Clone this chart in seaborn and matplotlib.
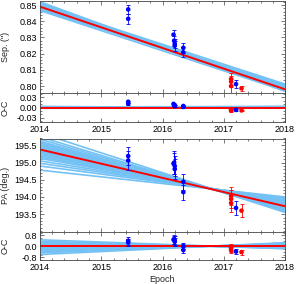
import numpy as np
import pandas as pd
import matplotlib
matplotlib.use("Agg")
import matplotlib.pyplot as plt
from matplotlib.ticker import MultipleLocator, FormatStrFormatter, FixedLocator
import seaborn as sns

# ---------------- data ----------------
model_epochs = [2014.0, 2018.0]
sep_model = [0.8490, 0.7980]
pa_model = [195.38, 193.73]

# orbit-sample lines (values at 2014 and 2018)
sep_fan_2014 = [0.8520, 0.8514, 0.8508, 0.8503, 0.8498, 0.8494, 0.8490, 0.8486, 0.8481, 0.8476, 0.8470, 0.8466]
sep_fan_2018 = [0.7968, 0.7975, 0.7990, 0.8012, 0.7998, 0.7984, 0.7980, 0.8005, 0.7976, 0.7993, 0.8000, 0.7970]
pa_fan_2014 = [195.86, 195.75, 195.68, 195.62, 195.58, 195.55, 195.52, 195.50, 195.47, 195.45, 195.42, 195.40,
               195.38, 195.35, 195.33, 195.30, 195.27, 195.24, 195.20, 195.16, 195.12, 195.05, 194.98, 194.90, 194.78]
pa_fan_2018 = [193.55, 193.58, 193.62, 193.63, 193.66, 193.67, 193.68, 193.70, 193.71, 193.72, 193.73, 193.74,
               193.75, 193.76, 193.77, 193.79, 193.80, 193.81, 193.83, 193.85, 193.87, 193.90, 193.93, 193.96, 194.00]

# measurements
blue_epoch = [2015.44, 2015.44, 2016.18, 2016.19, 2016.20, 2016.20, 2016.34, 2016.34, 2017.20]
blue_sep = [0.8473, 0.8415, 0.8317, 0.8280, 0.8262, 0.8249, 0.8236, 0.8208, 0.8012]
blue_sep_err = [0.0030, 0.0030, 0.0030, 0.0030, 0.0030, 0.0030, 0.0030, 0.0030, 0.0024]
blue_pa = [195.19, 195.06, 194.97, 195.00, 194.90, 194.81, 194.44, 194.14, 193.68]
blue_pa_err = [0.27, 0.27, 0.30, 0.33, 0.30, 0.30, 0.24, 0.22, 0.20]

red_epoch = [2017.12, 2017.12, 2017.12, 2017.29]
red_sep = [0.8043, 0.8027, 0.8000, 0.7986]
red_sep_err = [0.0035, 0.0035, 0.0045, 0.0015]
red_pa = [194.03, 193.94, 193.82, 193.60]
red_pa_err = [0.27, 0.25, 0.25, 0.18]

x_ticks = [2014, 2015, 2016, 2017, 2018]
pa_ticks = [193.5, 194.0, 194.5, 195.0, 195.5]

# ---------------- style ----------------
sns.set_theme(style="ticks")
plt.rcParams["font.family"] = ["Liberation Sans", "DejaVu Sans"]
plt.rcParams["font.size"] = 6.5
plt.rcParams["axes.labelsize"] = 6.5
plt.rcParams["axes.linewidth"] = 0.6
plt.rcParams["axes.labelpad"] = 1
for ax_ in ("xtick", "ytick"):
    plt.rcParams[f"{ax_}.direction"] = "in"
    plt.rcParams[f"{ax_}.major.size"] = 3
    plt.rcParams[f"{ax_}.minor.size"] = 1.5
    plt.rcParams[f"{ax_}.major.width"] = 0.5
    plt.rcParams[f"{ax_}.minor.width"] = 0.5
    plt.rcParams[f"{ax_}.major.pad"] = 2
    plt.rcParams[f"{ax_}.labelsize"] = 6.5
    plt.rcParams[f"{ax_}.color"] = "#444444"
    plt.rcParams[f"{ax_}.labelcolor"] = "black"

BAND = "#74c2f5"
RED = "#ff0000"
BLUE = "#0000ff"

W, H = 299, 284
fig = plt.figure(figsize=(W / 100, H / 100), dpi=100)

def add_ax(top, bottom):
    return fig.add_axes([40 / W, (H - bottom) / H, 245 / W, (bottom - top) / H])

ax_sep = add_ax(1, 93)
ax_soc = add_ax(93, 122)
ax_pa = add_ax(138.5, 232)
ax_poc = add_ax(232, 260)

def interp_model(ep, model):
    return np.interp(ep, model_epochs, model)

def fan_frame(start, end, model):
    rows = []
    for i, (a, b) in enumerate(zip(start, end)):
        rows.append((i, model_epochs[0], a, a - model[0]))
        rows.append((i, model_epochs[1], b, b - model[1]))
    return pd.DataFrame(rows, columns=["line", "epoch", "val", "oc"])

def panel(ax, ax_oc, fan_s, fan_e, model, b_val, b_err, r_val, r_err):
    fan = fan_frame(fan_s, fan_e, model)
    mdf = pd.DataFrame({"epoch": model_epochs, "val": model, "oc": [0.0, 0.0]})
    bdf = pd.DataFrame({"epoch": blue_epoch, "val": b_val, "err": b_err})
    bdf["oc"] = bdf["val"] - interp_model(bdf["epoch"], model)
    rdf = pd.DataFrame({"epoch": red_epoch, "val": r_val, "err": r_err})
    rdf["oc"] = rdf["val"] - interp_model(rdf["epoch"], model)
    for a, col in ((ax, "val"), (ax_oc, "oc")):
        sns.lineplot(data=fan, x="epoch", y=col, units="line", estimator=None,
                     color=BAND, lw=1.2, ax=a, legend=False)
        sns.lineplot(data=mdf, x="epoch", y=col, color=RED, lw=1.4, ax=a, legend=False)
        for df, c in ((bdf, BLUE), (rdf, RED)):
            a.errorbar(df["epoch"], df[col], yerr=df["err"], fmt="none", ecolor=c,
                       elinewidth=0.6, capsize=1.5, capthick=0.6, zorder=4)
            sns.scatterplot(data=df, x="epoch", y=col, color=c, s=11, marker="o",
                            edgecolor="none", ax=a, zorder=5, legend=False)

panel(ax_sep, ax_soc, sep_fan_2014, sep_fan_2018, sep_model,
      blue_sep, blue_sep_err, red_sep, red_sep_err)
panel(ax_pa, ax_poc, pa_fan_2014, pa_fan_2018, pa_model,
      blue_pa, blue_pa_err, red_pa, red_pa_err)

# axes limits / ticks
ax_sep.set_ylim(0.7957, 0.8525)
ax_sep.yaxis.set_major_locator(MultipleLocator(0.01))
ax_sep.yaxis.set_minor_locator(MultipleLocator(0.002))
ax_sep.yaxis.set_major_formatter(FormatStrFormatter("%.2f"))

ax_soc.set_ylim(-0.042, 0.042)
ax_soc.yaxis.set_major_locator(MultipleLocator(0.03))
ax_soc.yaxis.set_minor_locator(MultipleLocator(0.01))
ax_soc.yaxis.set_major_formatter(FormatStrFormatter("%.2f"))

ax_pa.set_ylim(192.98, 195.70)
ax_pa.yaxis.set_major_locator(FixedLocator(pa_ticks))
ax_pa.yaxis.set_minor_locator(MultipleLocator(0.1))
ax_pa.yaxis.set_major_formatter(FormatStrFormatter("%.1f"))

ax_poc.set_ylim(-1.0, 1.05)
ax_poc.yaxis.set_major_locator(MultipleLocator(0.8))
ax_poc.yaxis.set_minor_locator(MultipleLocator(0.2))
ax_poc.yaxis.set_major_formatter(FormatStrFormatter("%.1f"))

for a in (ax_sep, ax_soc, ax_pa, ax_poc):
    a.set_xlim(2014, 2018)
    a.set_xticks(x_ticks)
    a.xaxis.set_minor_locator(MultipleLocator(0.2))
    a.tick_params(which="both", top=True, right=True)
    a.set_xlabel("")
    for s in a.spines.values():
        s.set_visible(True)
        s.set_color("#444444")
        s.set_linewidth(0.6)

for a in (ax_sep, ax_pa):
    a.tick_params(labelbottom=False)
ax_soc.set_xticklabels([str(t) for t in x_ticks])
ax_poc.set_xticklabels([str(t) for t in x_ticks])

ax_sep.set_ylabel('Sep. (")')
ax_soc.set_ylabel("O-C")
ax_pa.set_ylabel("PA (deg.)")
ax_poc.set_ylabel("O-C")
ax_poc.set_xlabel("Epoch")
for a in (ax_sep, ax_soc, ax_pa, ax_poc):
    a.yaxis.set_label_coords(-30 / 245, 0.5)
ax_poc.xaxis.set_label_coords(0.5, -0.52)

fig.savefig("out.png", dpi=100)
